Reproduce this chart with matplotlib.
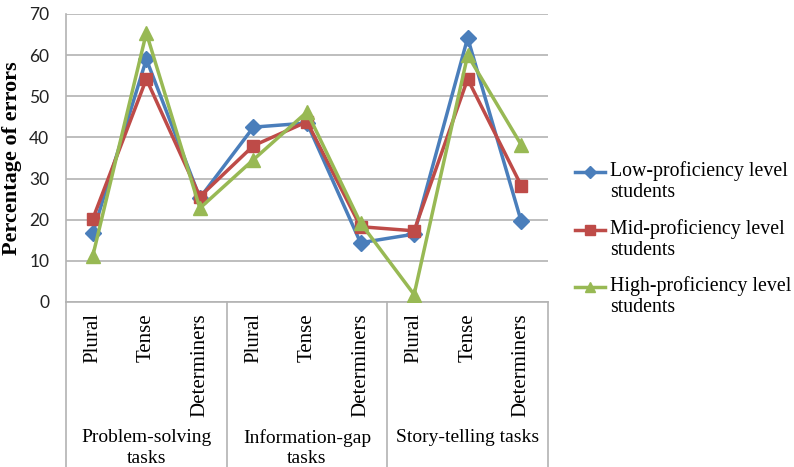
import matplotlib
matplotlib.use("Agg")
import matplotlib.pyplot as plt
from matplotlib.lines import Line2D
import numpy as np

# error types within each task group
categories = ["Plural", "Tense", "Determiners"] * 3
groups = ["Problem-solving\ntasks", "Information-gap\ntasks", "Story-telling tasks"]

low = [16.8, 59.0, 25.3, 42.5, 43.5, 14.4, 16.5, 64.2, 19.6]
mid = [20.2, 54.2, 25.6, 38.0, 43.8, 18.3, 17.3, 54.2, 28.3]
high = [11.2, 65.4, 22.8, 34.6, 46.2, 19.2, 1.8, 60.0, 38.2]

series_names = ["Low-proficiency level\nstudents",
                "Mid-proficiency level\nstudents",
                "High-proficiency level\nstudents"]
colors = ["#4A7EBB", "#BE4B48", "#98B954"]
markers = ["D", "s", "^"]
msizes = [8, 9, 10]

serif = ["Liberation Serif", "DejaVu Serif"]
grid_col = "#B3B3B3"

fig = plt.figure(figsize=(7.94, 4.67), dpi=100)
ax = fig.add_axes([66 / 794, 165 / 467, 482 / 794, 288 / 467])

x = np.arange(len(categories))
for vals, c, m, ms in zip([low, mid, high], colors, markers, msizes):
    ax.plot(x, vals, color=c, lw=2.5, marker=m, ms=ms, mfc=c, mec=c, zorder=3)

ax.set_xlim(-0.5, len(categories) - 0.5)
ax.set_ylim(0, 70)
ax.set_yticks(range(0, 71, 10))
ax.yaxis.grid(True, color=grid_col, lw=1.2)
ax.set_axisbelow(True)
for s in ["top", "right"]:
    ax.spines[s].set_visible(False)
ax.spines["left"].set_color(grid_col)
ax.spines["bottom"].set_color(grid_col)
ax.spines["left"].set_linewidth(1.2)
ax.spines["bottom"].set_linewidth(1.2)
ax.tick_params(axis="y", length=0, pad=12, labelsize=12.5, labelcolor="#222222")
for t in ax.get_yticklabels():
    t.set_family(["Lato", "DejaVu Sans"])

ax.set_xticks(x)
ax.set_xticklabels(categories, rotation=90, family=serif, fontsize=15)
ax.tick_params(axis="x", length=0, pad=8)

ax.set_ylabel("Percentage of errors", family=serif, fontweight="bold",
              fontsize=16, labelpad=5)

# group boxes under the category axis
trans = ax.get_xaxis_transform()
for b in [-0.5, 2.5, 5.5, 8.5]:
    ax.plot([b, b], [0, -0.6], transform=trans, color=grid_col, lw=1.2,
            clip_on=False)
for i, g in enumerate(groups):
    ax.text(3 * i + 1, -0.44, g, transform=trans, ha="center", va="top",
            family=serif, fontsize=14, linespacing=1.3)

# legend
ys = [172, 230, 287]
for name, c, m, ms, yp in zip(series_names, colors, markers, msizes, ys):
    yf = 1 - yp / 467
    fig.add_artist(Line2D([575 / 794, 590 / 794, 605 / 794], [yf, yf, yf],
                          transform=fig.transFigure, color=c, lw=2.5,
                          marker=m, ms=ms * 0.75, markevery=[1]))
    fig.text(610 / 794, yf + 11 / 467, name, ha="left", va="top",
             family=serif, fontsize=14.3, linespacing=1.15)

fig.savefig("out.png", dpi=100)
